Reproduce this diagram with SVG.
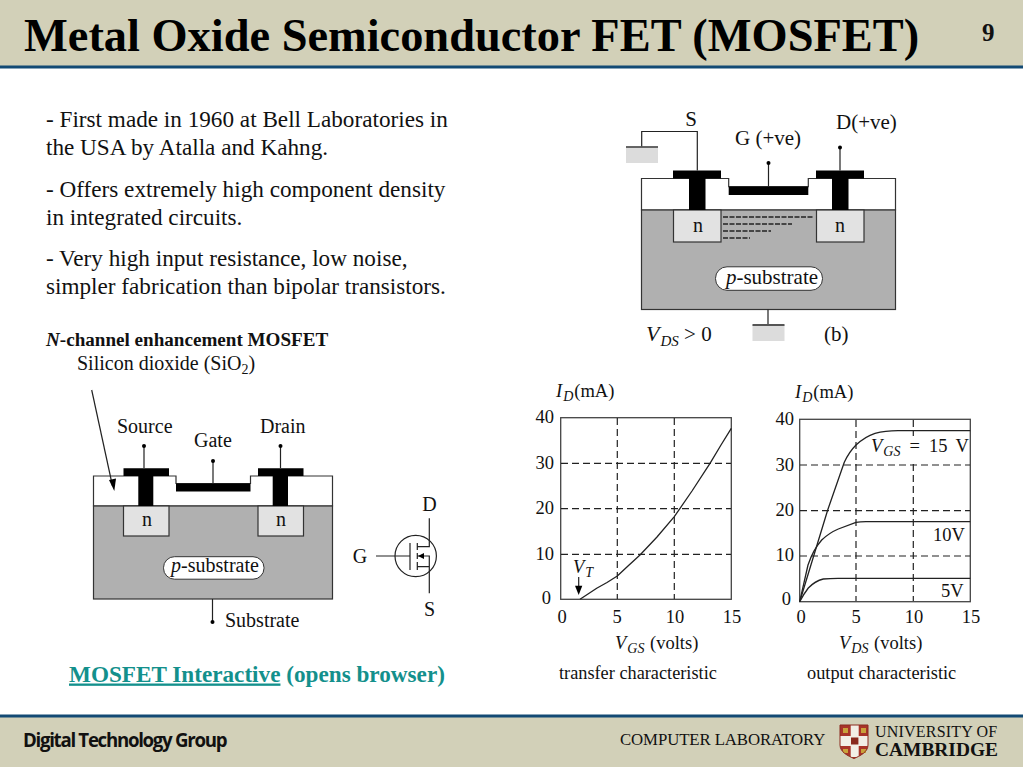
<svg xmlns="http://www.w3.org/2000/svg" width="1023" height="767" viewBox="0 0 1023 767">
<style>
text{font-family:"Liberation Serif",serif;fill:#111}
.b{font-size:23.200px}
.l{font-size:20px}
.m{font-size:21px}
.t{font-size:18.500px}
.s{stroke:#222;stroke-width:1.2;fill:none}
.o{fill:#fff;stroke:#333;stroke-width:1.2}
.sub{fill:#b0b0b0;stroke:#333;stroke-width:1.2}
.n{fill:#e2e2e2;stroke:#333;stroke-width:1.2}
.k{fill:#000}
.d{stroke:#222;stroke-width:1.2;stroke-dasharray:7 4;fill:none}
.g{fill:#dcdcdc}
.c{stroke:#222;stroke-width:1.3;fill:none;stroke-linejoin:round}
.go{fill:#c9a23a}
</style>
<g id="header">
<rect width="1023" height="66" fill="#d2d0b8"/>
<rect y="65.500" width="1023" height="3" fill="#134a74"/>
<text x="24" y="51" font-size="46.400" font-weight="bold" style="fill:#000">Metal Oxide Semiconductor FET (MOSFET)</text>
<text x="982" y="41" font-size="25" font-weight="bold">9</text>
</g>
<g id="bullets" class="b">
<text x="46" y="126.500">- First made in 1960 at Bell Laboratories in</text>
<text x="46" y="154.500">the USA by Atalla and Kahng.</text>
<text x="46" y="196.500">- Offers extremely high component density</text>
<text x="46" y="224.500">in integrated circuits.</text>
<text x="46" y="265.500">- Very high input resistance, low noise,</text>
<text x="46" y="293.500">simpler fabrication than bipolar transistors.</text>
<text x="46" y="346" font-size="19.100" font-weight="bold"><tspan font-style="italic">N</tspan>-channel enhancement MOSFET</text>
</g>
<g id="mosfet-a">
<text x="77" y="370" class="l">Silicon dioxide (SiO<tspan font-size="14" dy="4">2</tspan><tspan dy="-4">)</tspan></text>
<path class="o" d="M93.500 476H176V483.500H250.500V476H332.500V506H93.500Z"/>
<rect class="sub" x="93.500" y="506" width="239" height="93"/>
<rect class="n" x="123.500" y="506" width="45.500" height="30"/>
<rect class="n" x="258" y="506" width="45.500" height="30"/>
<path class="k" d="M123.500 468.300H169V476H153.300V506H138.300V476H123.500Z"/>
<path class="k" d="M258 468.300H303.500V476H288V506H272.700V476H258Z"/>
<rect class="k" x="176" y="483.500" width="74.500" height="8"/>
<path class="s" d="M144 445V468M213 461V484M280.500 446V468M212.500 599V622"/>
<circle class="k" cx="144" cy="446" r="2"/><circle class="k" cx="213" cy="461" r="2"/><circle class="k" cx="280.500" cy="446" r="2"/><circle class="k" cx="212.500" cy="622" r="2"/>
<text x="147" y="526" class="l" text-anchor="middle">n</text>
<text x="281" y="526" class="l" text-anchor="middle">n</text>
<rect x="163.500" y="556.700" width="100.500" height="22.500" rx="11" fill="#fff" stroke="#333"/>
<text x="215" y="572" class="l" text-anchor="middle"><tspan font-style="italic">p</tspan>-substrate</text>
<text x="117" y="433" class="l">Source</text>
<text x="194" y="447" class="l">Gate</text>
<text x="260" y="433" class="l">Drain</text>
<text x="225" y="627" class="l">Substrate</text>
<path class="s" d="M91.700 390L112.500 486"/>
<path class="k" d="M109 480L116 478.500L114.300 491Z"/>
</g>
<g id="symbol">
<circle class="s" cx="415.700" cy="556" r="20.700"/>
<path class="s" d="M376 556H410M410 543V570M417.300 543V550M417.300 553V559M417.300 562V570M417.300 546.700H429.300V518.300M417.300 566.700H429.300V593.300M417.300 556H429.300V566.700"/>
<path class="k" d="M418 556L424 553V559Z"/>
<text x="429.500" y="511" class="l" text-anchor="middle">D</text>
<text x="360" y="563" class="l" text-anchor="middle">G</text>
<text x="429.500" y="616" class="l" text-anchor="middle">S</text>
</g>
<g id="mosfet-b">
<path class="o" d="M641.500 178.500H728.700V186.700H808.300V178.500H895.500V210H641.500Z"/>
<rect class="sub" x="641.500" y="210" width="254" height="99.500"/>
<rect class="n" x="673.500" y="210" width="47.500" height="32"/>
<rect class="n" x="816.500" y="210" width="47.500" height="32"/>
<path class="k" d="M673 170.500H721V178.500H705.500V210H689V178.500H673Z"/>
<path class="k" d="M816 170.500H864V178.500H848.500V210H832V178.500H816Z"/>
<rect class="k" x="728.700" y="186.700" width="79.600" height="8.300"/>
<path class="s" d="M697.300 170.500V131.500H641.700V147M768.500 163V186.500M840 148V170.500M768 309.500V325"/>
<circle class="k" cx="768.500" cy="163" r="2"/><circle class="k" cx="840" cy="147.500" r="2"/>
<rect class="g" x="626" y="147" width="32" height="16"/>
<path d="M626 147H658" stroke="#555" stroke-width="1.800"/>
<rect class="g" x="752.500" y="325" width="32" height="16"/>
<path d="M752.500 325H784.500" stroke="#555" stroke-width="1.800"/>
<path d="M723 217H813M723 224H792M723 231H771M723 238H750" stroke="#222" stroke-width="1.300" stroke-dasharray="5 1.500" fill="none"/>
<text x="698" y="232" class="l" text-anchor="middle">n</text>
<text x="840" y="232" class="l" text-anchor="middle">n</text>
<rect x="715.500" y="266.800" width="107" height="23.500" rx="11.500" fill="#fff" stroke="#333"/>
<text x="772" y="284" class="m" text-anchor="middle"><tspan font-style="italic">p</tspan>-substrate</text>
<text x="691" y="126" class="m" text-anchor="middle">S</text>
<text x="735" y="145" class="m">G (+ve)</text>
<text x="836" y="129" class="m">D(+ve)</text>
<text x="646" y="341" class="m"><tspan font-style="italic" font-size="22">V</tspan><tspan font-style="italic" font-size="15" dy="5" dx="1">DS</tspan><tspan dy="-5"> &gt; 0</tspan></text>
<text x="824" y="341" class="m">(b)</text>
</g>
<g id="chart-transfer">
<rect x="560.700" y="417.700" width="170.600" height="181.600" fill="#fff" stroke="#444" stroke-width="1.300"/>
<path class="d" d="M617.300 418V599M674.300 418V599M561 463.300H731M561 508.700H731M561 554.300H731"/>
<path class="c" d="M580 599.300L588 594L596.700 588.300L607 582.500L617.300 576L628 566L640 555L657 537L674.300 516.700L692 491L710 463.300L721 445L731.300 428.300"/>
<path class="s" d="M578.700 577V587"/>
<path class="k" d="M575 585.700H582.300L578.700 595Z"/>
<text x="556" y="397" class="t"><tspan font-style="italic">I</tspan><tspan font-style="italic" font-size="14" dy="4" dx="1">D</tspan><tspan dy="-4" dx="1">(mA)</tspan></text>
<g class="t" text-anchor="end">
<text x="554" y="423">40</text><text x="554" y="469">30</text><text x="554" y="514">20</text><text x="554" y="560">10</text><text x="551" y="604">0</text>
</g>
<g class="t" text-anchor="middle">
<text x="562" y="623">0</text><text x="617" y="623">5</text><text x="675" y="623">10</text><text x="732" y="623">15</text>
</g>
<text x="573" y="573" class="t" font-style="italic">V<tspan font-size="14" dy="4" dx="1">T</tspan></text>
<text x="615" y="649" class="t"><tspan font-style="italic">V</tspan><tspan font-style="italic" font-size="14" dy="4" dx="1">GS</tspan><tspan dy="-4" dx="1"> (volts)</tspan></text>
<text x="559" y="678.500" font-size="18.300">transfer characteristic</text>
</g>
<g id="chart-output">
<rect x="799.700" y="419.300" width="170.600" height="182.400" fill="#fff" stroke="#444" stroke-width="1.300"/>
<path class="d" d="M856 420V601M913.300 420V601M800 465H970M800 510.700H970M800 556H970"/>
<path class="c" d="M799.700 601.700L827.700 510L844.300 462.300Q849 452 856 445Q865 436.500 875 433.300Q885 430.700 898 430.700H970.300"/>
<path class="c" d="M799.700 601.700L808 565Q813 550 821.700 540Q829 533 838.300 529L856 522.300Q860 521.700 866 521.700H970.300"/>
<path class="c" d="M799.700 601.700Q803 595 808.300 588Q815 581 823.300 579Q830 578.300 838 578.300H970.300"/>
<rect x="870" y="436" width="98" height="24" fill="#fff"/>
<rect x="930" y="526" width="38" height="20" fill="#fff"/>
<text x="795" y="398" class="t"><tspan font-style="italic">I</tspan><tspan font-style="italic" font-size="14" dy="4" dx="1">D</tspan><tspan dy="-4" dx="1">(mA)</tspan></text>
<g class="t" text-anchor="end">
<text x="794" y="425">40</text><text x="794" y="471">30</text><text x="794" y="516">20</text><text x="794" y="561">10</text><text x="791" y="605">0</text>
</g>
<g class="t" text-anchor="middle">
<text x="801" y="623">0</text><text x="856" y="623">5</text><text x="914" y="623">10</text><text x="971" y="623">15</text>
</g>
<text x="871" y="452" class="t"><tspan font-style="italic">V</tspan><tspan font-style="italic" font-size="14" dy="4" dx="1">GS</tspan><tspan dy="-4" dx="9">=</tspan><tspan dx="9">15</tspan><tspan dx="8">V</tspan></text>
<text x="933" y="541" class="t">10V</text>
<text x="941" y="597" class="t">5V</text>
<text x="839" y="649" class="t"><tspan font-style="italic">V</tspan><tspan font-style="italic" font-size="14" dy="4" dx="1">DS</tspan><tspan dy="-4" dx="1"> (volts)</tspan></text>
<text x="807" y="678.500" font-size="18.350">output characteristic</text>
</g>
<g id="link">
<text x="69" y="681.500" font-size="23.200" font-weight="bold" style="fill:#13908c"><tspan text-decoration="underline">MOSFET Interactive</tspan> (opens browser)</text>
</g>
<g id="footer">
<rect y="716" width="1023" height="51" fill="#d2d0b8"/>
<rect y="714.500" width="1023" height="3" fill="#134a74"/>
<text x="23" y="747" font-size="18.700" font-weight="bold" style="font-family:'Open Sans','Liberation Sans',sans-serif" letter-spacing="-1.300">Digital Technology Group</text>
<text x="620" y="745" font-size="16.800" letter-spacing="-0.100">COMPUTER LABORATORY</text>
<path d="M840 725H868V745C868 752 860 756 854 758.500C848 756 840 752 840 745Z" fill="#a83428"/>
<path d="M850.700 725H858.700V757H850.700ZM840 736H868V746H840Z" fill="#f2efe6"/>
<rect x="851" y="737.500" width="7.400" height="7" fill="#8a2a1e"/>
<rect class="go" x="843" y="728" width="5" height="5"/><rect class="go" x="861" y="728" width="5" height="5"/><rect class="go" x="843" y="749" width="5" height="4"/><rect class="go" x="861" y="749" width="5" height="4"/>
<path d="M840 725H868V745C868 752 860 756 854 758.500C848 756 840 752 840 745Z" fill="none" stroke="#8a2a1e" stroke-width="1"/>
<text x="875" y="737" font-size="16" letter-spacing="0.200">UNIVERSITY OF</text>
<text x="875" y="756" font-size="19" font-weight="bold" textLength="123" lengthAdjust="spacingAndGlyphs">CAMBRIDGE</text>
</g>
</svg>
